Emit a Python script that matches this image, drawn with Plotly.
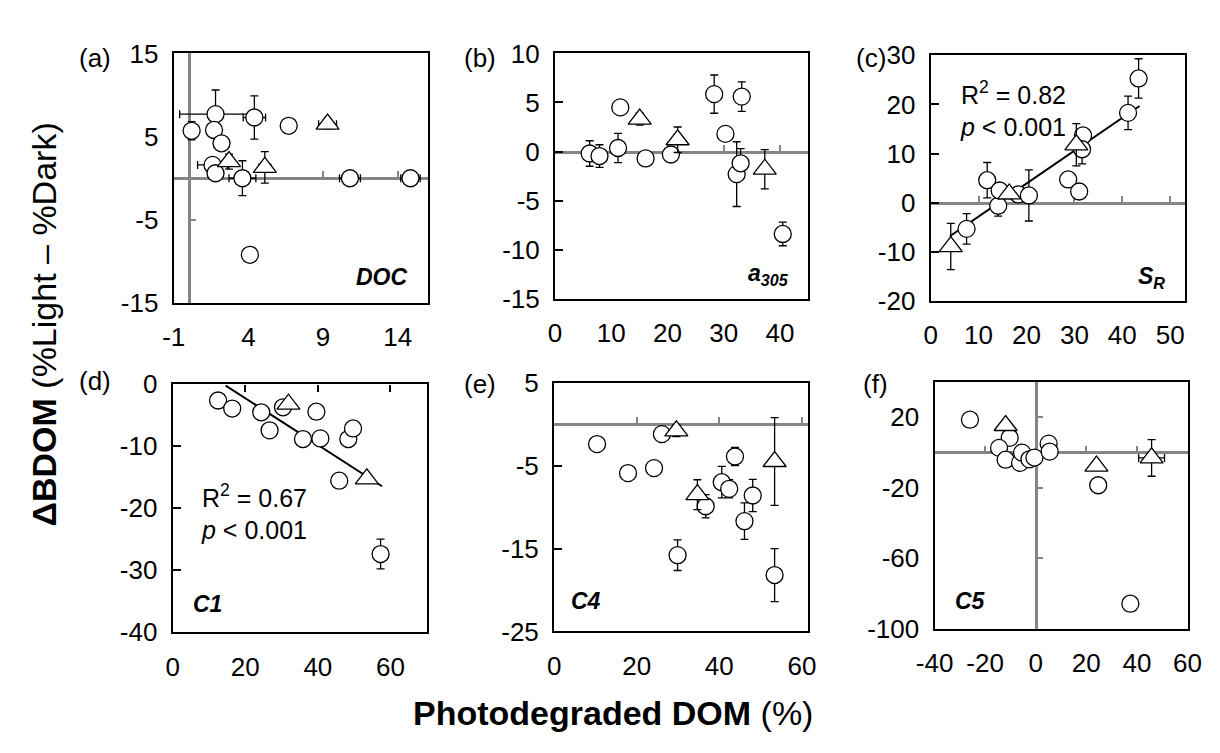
import plotly.graph_objects as go

W, H = 1220, 753
FONT = "Liberation Sans, Arial, sans-serif"
GRAY = "#858585"

# ---------------- data ----------------
# (a) DOC
a_circ_x = [0.2, 1.8, 4.4, 1.7, 2.2, 1.6, 1.8, 3.6, 6.7, 4.1, 10.8, 14.85]
a_circ_y = [5.7, 7.7, 7.3, 5.8, 4.2, 1.6, 0.6, 0.0, 6.3, -9.2, 0.0, 0.0]
a_circ_ey = [1.1, 2.9, 2.6, 0.8, 0.8, 0.8, 0.5, 2.1, 0.3, 0.3, 0.3, 0.3]
a_circ_ex = [0.3, 2.4, 0.75, 0.3, 0.3, 1.0, 0.3, 0.9, 0.2, 0.2, 0.7, 0.65]
a_tri_x = [2.7, 5.1, 9.3]
a_tri_y = [2.0, 1.3, 6.5]
a_tri_ey = [0.9, 1.9, 0.6]
a_tri_ex = [0.3, 0.4, 0.6]

# (b) a305
b_circ_x = [6.15, 7.9, 11.2, 11.6, 16.1, 20.6, 28.3, 33.2, 30.3, 32.3, 33.0, 40.5]
b_circ_y = [-0.2, -0.46, 0.36, 4.5, -0.7, -0.3, 5.85, 5.6, 1.8, -2.3, -1.2, -8.4]
b_circ_ey = [1.3, 1.15, 1.5, 0.5, 0.5, 0.5, 1.95, 1.5, 0.5, 3.3, 1.5, 1.2]
b_tri_x = [15.05, 21.8, 37.3]
b_tri_y = [3.3, 1.2, -1.8]
b_tri_ey = [0.6, 1.3, 2.0]

# (c) SR
c_circ_x = [7.5, 11.8, 14.1, 14.4, 18.3, 20.5, 28.7, 31.0, 31.8, 31.6, 41.2, 43.4]
c_circ_y = [-5.3, 4.6, -0.6, 2.5, 1.7, 1.5, 4.75, 2.3, 13.7, 10.9, 18.3, 25.3]
c_circ_ey = [3.1, 3.6, 2.1, 1.0, 1.0, 5.2, 1.0, 1.0, 1.0, 3.0, 3.4, 4.0]
c_tri_x = [4.2, 16.4, 30.4]
c_tri_y = [-8.9, 1.8, 11.8]
c_tri_ey = [4.7, 1.0, 4.3]
c_fit_x = [4.0, 43.6]
c_fit_y = [-6.8, 19.7]

# (d) C1
d_circ_x = [12.5, 16.4, 24.4, 26.7, 30.4, 39.6, 35.9, 40.7, 48.4, 49.7, 45.9, 57.3]
d_circ_y = [-2.7, -4.0, -4.6, -7.5, -3.8, -4.5, -8.9, -8.8, -8.9, -7.2, -15.6, -27.4]
d_circ_ey = [0.3, 0.3, 0.3, 0.3, 0.3, 0.7, 0.3, 0.3, 0.3, 0.7, 0.3, 2.4]
d_tri_x = [31.9, 53.5]
d_tri_y = [-3.3, -15.3]
d_tri_ey = [0.5, 0.3]
d_fit_x = [14.6, 57.7]
d_fit_y = [-0.3, -16.5]

# (e) C4
e_circ_x = [10.4, 17.9, 24.2, 26.1, 29.9, 36.7, 40.6, 42.4, 43.8, 48.1, 46.1, 53.4]
e_circ_y = [-2.4, -5.9, -5.3, -1.2, -15.8, -9.9, -7.0, -7.8, -3.9, -8.6, -11.7, -18.2]
e_circ_ey = [0.3, 0.6, 0.9, 0.8, 1.85, 1.4, 1.9, 1.1, 1.1, 1.95, 2.2, 3.2]
e_tri_x = [29.6, 34.7, 53.4]
e_tri_y = [-0.8, -8.5, -4.5]
e_tri_ey = [0.7, 1.8, 5.3]

# (f) C5
f_circ_x = [-26.0, -10.3, -14.5, -11.9, -6.2, -5.4, -2.5, -0.5, 5.1, 5.5, 24.7, 37.4]
f_circ_y = [18.5, 8.2, 2.5, -4.2, -6.0, -0.2, -4.0, -3.0, 4.9, 0.4, -18.7, -85.9]
f_circ_ey = [0.5, 3.0, 0.5, 0.5, 0.5, 3.0, 0.5, 0.5, 0.5, 0.5, 0.5, 0.5]
f_tri_x = [-11.9, 24.0, 45.8]
f_tri_y = [15.2, -7.8, -3.2]
f_tri_ey = [2.0, 2.0, 10.4]
f_tri_ex = [0.5, 0.5, 5.1]

# tick values / ranges
a_xticks, a_yticks = [-1, 4, 9, 14], [-15, -5, 5, 15]
b_xticks, b_yticks = [0, 10, 20, 30, 40], [-15, -10, -5, 0, 5, 10]
c_xticks, c_yticks = [0, 10, 20, 30, 40, 50], [-20, -10, 0, 10, 20, 30]
d_xticks, d_yticks = [0, 20, 40, 60], [-40, -30, -20, -10, 0]
e_xticks, e_yticks = [0, 20, 40, 60], [-25, -15, -5, 5]
f_xticks, f_yticks = [-40, -20, 0, 20, 40, 60], [-100, -60, -20, 20]

panel_labels = ["(a)", "(b)", "(c)", "(d)", "(e)", "(f)"]
inner_labels = ["<b><i>DOC</i></b>", "<b><i>a<sub>305</sub></i></b>", "<b><i>S<sub>R</sub></i></b>",
                "<b><i>C1</i></b>", "<b><i>C4</i></b>", "<b><i>C5</i></b>"]
c_stats = "R<sup>2</sup> = 0.82<br><i>p</i> &lt; 0.001"
d_stats = "R<sup>2</sup> = 0.67<br><i>p</i> &lt; 0.001"
y_title = "<b>ΔBDOM</b> (%Light – %Dark)"
x_title = "<b>Photodegraded DOM</b> (%)"

# ---------------- layout helpers ----------------
def fx(px):
    return px / W

def fy(py):
    return 1 - py / H

def labels(vals):
    return [str(v) for v in vals]   # plain hyphen minus, as in the reference

panels = [
    dict(box=(159, 420, 40, 300), xr=[-1, 16], yr=[-15, 15], xt=a_xticks, yt=a_yticks,
         yframe=False, grayx=True, grayy=True, topx=False,
         circ=(a_circ_x, a_circ_y, a_circ_ey, a_circ_ex), tri=(a_tri_x, a_tri_y, a_tri_ey, a_tri_ex), fit=None),
    dict(box=(551, 811, 40, 295.5), xr=[0, 45], yr=[-15, 10], xt=b_xticks, yt=b_yticks,
         yframe=True, grayx=True, grayy=False, topx=False,
         circ=(b_circ_x, b_circ_y, b_circ_ey, None), tri=(b_tri_x, b_tri_y, b_tri_ey, None), fit=None),
    dict(box=(937, 1198, 42, 298), xr=[0, 53], yr=[-20, 30], xt=c_xticks, yt=c_yticks,
         yframe=True, grayx=True, grayy=False, topx=False,
         circ=(c_circ_x, c_circ_y, c_circ_ey, None), tri=(c_tri_x, c_tri_y, c_tri_ey, None), fit=(c_fit_x, c_fit_y)),
    dict(box=(158, 419, 384, 643), xr=[0, 70], yr=[-40, 0], xt=d_xticks, yt=d_yticks,
         yframe=True, grayx=False, grayy=False, topx=True,
         circ=(d_circ_x, d_circ_y, d_circ_ey, None), tri=(d_tri_x, d_tri_y, d_tri_ey, None), fit=(d_fit_x, d_fit_y)),
    dict(box=(550, 811, 383, 642), xr=[0, 61.5], yr=[-25, 5], xt=e_xticks, yt=e_yticks,
         yframe=True, grayx=True, grayy=False, topx=False,
         circ=(e_circ_x, e_circ_y, e_circ_ey, None), tri=(e_tri_x, e_tri_y, e_tri_ey, None), fit=None),
    dict(box=(941, 1201, 382, 639), xr=[-40, 60], yr=[-100, 40], xt=f_xticks, yt=f_yticks,
         yframe=False, grayx=True, grayy=True, topx=False,
         circ=(f_circ_x, f_circ_y, f_circ_ey, None), tri=(f_tri_x, f_tri_y, f_tri_ey, f_tri_ex), fit=None),
]

fig = go.Figure()
layout = dict(
    width=W, height=H, margin=dict(l=0, r=0, t=0, b=0),
    paper_bgcolor="white", plot_bgcolor="white", showlegend=False,
    font=dict(family=FONT, size=26, color="black"),
)
annotations = []
overlay_id = 7

def err(arr):
    if arr is None:
        return None
    return dict(type="data", array=arr, visible=True, color="black", thickness=1.3, width=4)

for i, p in enumerate(panels, start=1):
    l, r, t, b = p["box"]
    xn = "x" if i == 1 else f"x{i}"
    yn = "y" if i == 1 else f"y{i}"
    xk = "xaxis" if i == 1 else f"xaxis{i}"
    yk = "yaxis" if i == 1 else f"yaxis{i}"
    dx = [fx(l), fx(r)]
    dy = [fy(b), fy(t)]
    layout[xk] = dict(domain=dx, range=p["xr"], anchor=yn, tickvals=p["xt"], ticktext=labels(p["xt"]),
                      showline=True, linecolor="black", linewidth=2.2, mirror=True,
                      ticks="", showgrid=False, zeroline=False, fixedrange=True,
                      tickfont=dict(size=26), ticklabelstandoff=10)
    layout[yk] = dict(domain=dy, range=p["yr"], anchor=xn, tickvals=p["yt"], ticktext=labels(p["yt"]),
                      showline=True, linecolor="black", linewidth=2.2, mirror=True,
                      ticks="inside" if p["yframe"] else "", ticklen=8, tickwidth=1.5, tickcolor="black",
                      showgrid=False, zeroline=False, fixedrange=True,
                      tickfont=dict(size=26), ticklabelstandoff=8)

    # gray crossing axis lines with their own tick marks
    if p["grayx"] or p["topx"]:
        oid = overlay_id
        overlay_id += 1
        y0, y1 = p["yr"]
        pos = dy[0] + (0 - y0) / (y1 - y0) * (dy[1] - dy[0])
        layout[f"xaxis{oid}"] = dict(
            overlaying=xn, anchor="free", position=min(max(pos, 0), 1), range=p["xr"],
            tickvals=p["xt"], showticklabels=False, showgrid=False, zeroline=False,
            side="top" if p["topx"] else "bottom",
            showline=not p["topx"], linecolor=GRAY, linewidth=2.5,
            ticks="inside", ticklen=7 if p["topx"] else 6, tickwidth=1.5,
            tickcolor="black" if p["topx"] else GRAY,
            layer="below traces", fixedrange=True)
        fig.add_trace(go.Scatter(x=[None], y=[None], xaxis=f"x{oid}", yaxis=yn,
                                 mode="markers", showlegend=False, hoverinfo="skip"))
    if p["grayy"]:
        oid = overlay_id
        overlay_id += 1
        x0, x1 = p["xr"]
        pos = dx[0] + (0 - x0) / (x1 - x0) * (dx[1] - dx[0])
        layout[f"yaxis{oid}"] = dict(
            overlaying=yn, anchor="free", position=pos, range=p["yr"],
            tickvals=p["yt"], showticklabels=False, showgrid=False, zeroline=False,
            side="left", showline=True, linecolor=GRAY, linewidth=2.5,
            ticks="inside", ticklen=6, tickwidth=1.5, tickcolor=GRAY,
            layer="below traces", fixedrange=True)
        fig.add_trace(go.Scatter(x=[None], y=[None], xaxis=xn, yaxis=f"y{oid}",
                                 mode="markers", showlegend=False, hoverinfo="skip"))

    if p["fit"] is not None:
        fig.add_trace(go.Scatter(x=p["fit"][0], y=p["fit"][1], mode="lines",
                                 line=dict(color="black", width=2), xaxis=xn, yaxis=yn,
                                 showlegend=False, hoverinfo="skip"))

    cx, cy, cey, cex = p["circ"]
    fig.add_trace(go.Scatter(x=cx, y=cy, mode="markers", xaxis=xn, yaxis=yn,
                             error_y=err(cey), error_x=err(cex),
                             marker=dict(symbol="circle", size=17, color="white",
                                         line=dict(color="black", width=1.3)),
                             showlegend=False))
    tx, ty, tey, tex = p["tri"]
    fig.add_trace(go.Scatter(x=tx, y=ty, mode="markers", xaxis=xn, yaxis=yn,
                             error_y=err(tey), error_x=err(tex),
                             marker=dict(symbol="triangle-up", size=20, color="white",
                                         line=dict(color="black", width=1.3)),
                             showlegend=False))

# panel letters
letter_pos = [(60, 45, "left"), (455, 45, "left"), (893, 45, "right"),
              (60, 381, "left"), (455, 384, "left"), (865, 384, "left")]
for txt, (px, py, xa) in zip(panel_labels, letter_pos):
    annotations.append(dict(text=txt, x=fx(px), y=fy(py), xref="paper", yref="paper",
                            xanchor=xa, yanchor="middle", showarrow=False,
                            font=dict(size=26, family=FONT)))

# inner variable labels
inner_pos = [(402, 288, "right"), (793, 287, "right"), (1180, 291, "right"),
             (177, 629, "left"), (565, 626, "left"), (960, 626, "left")]
for txt, (px, py, xa) in zip(inner_labels, inner_pos):
    annotations.append(dict(text=txt, x=fx(px), y=fy(py), xref="paper", yref="paper",
                            xanchor=xa, yanchor="bottom", showarrow=False,
                            font=dict(size=23, family=FONT)))

# regression statistics
for txt, (px, py) in [(c_stats, (965, 62)), (d_stats, (185, 482))]:
    annotations.append(dict(text=txt, x=fx(px), y=fy(py), xref="paper", yref="paper",
                            xanchor="left", yanchor="top", align="left", showarrow=False,
                            font=dict(size=25, family=FONT)))

# axis titles
annotations.append(dict(text=y_title, x=fx(26), y=fy(322), xref="paper", yref="paper",
                        textangle=-90, xanchor="center", yanchor="middle", showarrow=False,
                        font=dict(size=34, family=FONT)))
annotations.append(dict(text=x_title, x=fx(610), y=fy(727), xref="paper", yref="paper",
                        xanchor="center", yanchor="middle", showarrow=False,
                        font=dict(size=34, family=FONT)))

layout["annotations"] = annotations
fig.update_layout(**layout)
fig.write_html("out.html")
